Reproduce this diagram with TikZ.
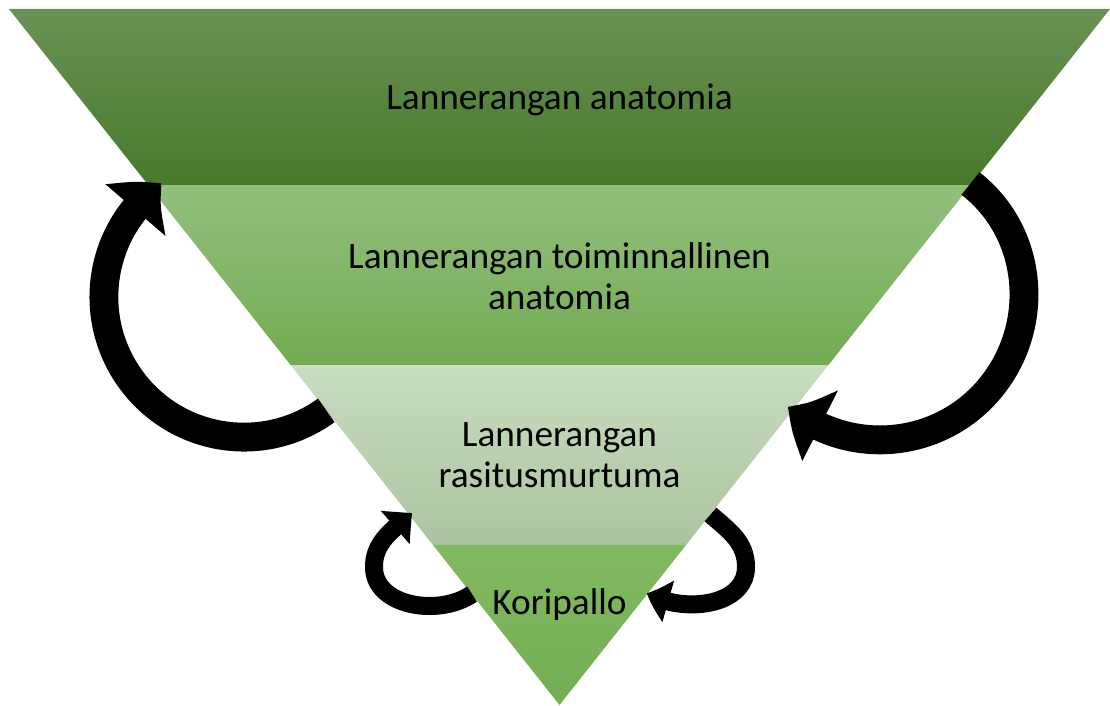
\documentclass[tikz,border=0pt]{standalone}
\usepackage{fontspec}
\setmainfont{Carlito}
\usetikzlibrary{positioning, calc, arrows.meta, bending}

\definecolor{darkTop}{HTML}{6A9155}
\definecolor{darkBot}{HTML}{477A2A}
\definecolor{midTop}{HTML}{93BF7E}
\definecolor{midBot}{HTML}{72AC52}
\definecolor{paleTop}{HTML}{C9DDC1}
\definecolor{paleBot}{HTML}{ABC49E}
\definecolor{tipTop}{HTML}{80B961}
\definecolor{tipBot}{HTML}{74AE54}

\tikzstyle{BigArrow} = [
    line width = 20.5pt,
    -{Triangle[width=54pt, length=27pt, bend]}
]
\tikzstyle{SmallArrow} = [
    line width = 12.8pt,
    -{Triangle[width=30pt, length=16pt, bend]}
]

\begin{document}
\begin{tikzpicture}[
x=0.025cm, y=0.025cm,
level/.style={
    font=\fontsize{26.5pt}{29pt}\selectfont,
    align=center
    }
]
\useasboundingbox (0,0) rectangle (1110,705);

% corners of the funnel
\coordinate (a) at (9,696);
\coordinate (b) at (1110,696);
\coordinate (c) at (559.5,0);

\coordinate (l1) at ($(a)!0.253!(c)$);
\coordinate (r1) at ($(b)!0.253!(c)$);
\coordinate (l2) at ($(a)!0.5115!(c)$);
\coordinate (r2) at ($(b)!0.5115!(c)$);
\coordinate (l3) at ($(a)!0.770!(c)$);
\coordinate (r3) at ($(b)!0.770!(c)$);

\shade[top color=darkTop, bottom color=darkBot] (a) -- (b) -- (r1) -- (l1) -- cycle;
\shade[top color=midTop, bottom color=midBot] (l1) -- (r1) -- (r2) -- (l2) -- cycle;
\shade[top color=paleTop, bottom color=paleBot] (l2) -- (r2) -- (r3) -- (l3) -- cycle;
\shade[top color=tipTop, bottom color=tipBot] (l3) -- (r3) -- (c) -- cycle;

\node [level] (1) at (559.5,605) {Lannerangan anatomia};
\node [level] (2) at (559.5,429) {Lannerangan toiminnallinen\\anatomia};
\node [level] (3) at (559.5,250) {Lannerangan\\rasitusmurtuma};
\node [level] (4) at (559.5,100) {Koripallo};

% big loops
\coordinate (tailL) at (326.3,294.7);
\coordinate (midL) at (130.7,325.7);
\coordinate (tipL) at (161.7,521.3);
\draw[BigArrow] (tailL) to [out=-144, in=-54] (midL) to [out=126, in=-144] (tipL);

\coordinate (tailR) at (970.5,521.5);
\coordinate (midR) at (991.1,318);
\coordinate (tipR) at (788.1,298.5);
\draw[BigArrow] (tailR) to [out=-38, in=51] (midR) to [out=-129, in=-40] (tipR);

% small loops
\coordinate (tailS) at (472,111);
\coordinate (midS) at (374,138);
\coordinate (tipS) at (412,192);
\draw[SmallArrow] (tailS) to [out=215, in=-90] (midS) to [out=90, in=222] (tipS);

\coordinate (tailT) at (710.5,190.5);
\coordinate (midT) at (746,138);
\coordinate (tipT) at (647,112);
\draw[SmallArrow] (tailT) to [out=-41, in=90] (midT) to [out=-90, in=-31] (tipT);

\end{tikzpicture}
\end{document}
